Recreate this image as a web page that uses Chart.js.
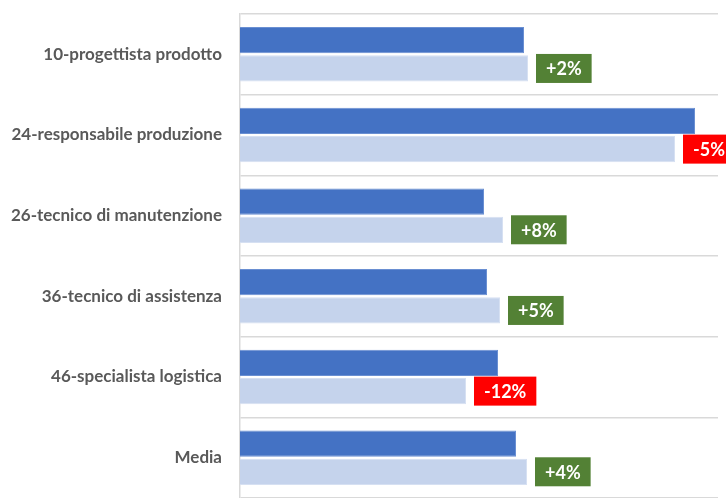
<!DOCTYPE html>
<html>
<head>
<meta charset="utf-8">
<script src="https://cdn.jsdelivr.net/npm/chart.js@4.4.0/dist/chart.umd.min.js"></script>
<style>
  html, body { margin: 0; padding: 0; background: #fff; }
  #wrap { width: 726px; height: 498px; }
</style>
</head>
<body>
<div id="wrap"><canvas id="chart"></canvas></div>
<script>
// Data
const categories = ['10-progettista prodotto', '24-responsabile produzione', '26-tecnico di manutenzione',
    '36-tecnico di assistenza', '46-specialista logistica', 'Media'];
const previousValues = [284, 455, 244, 247, 258, 276];
const currentValues = [288, 435, 263, 260, 226, 287];
const changeLabels = ['+2%', '-5%', '+8%', '+5%', '-12%', '+4%'];

// Draws the coloured change boxes to the right of the light bars
const changeBoxes = {
    id: 'changeBoxes',
    afterDatasetsDraw(chart) {
        const ctx = chart.ctx;
        const meta = chart.getDatasetMeta(1);
        ctx.save();
        ctx.font = 'bold 18px Lato';
        ctx.textBaseline = 'middle';
        ctx.textAlign = 'center';
        meta.data.forEach((bar, i) => {
            const text = changeLabels[i];
            const w = ctx.measureText(text).width + 20;
            const h = 29;
            const x = bar.x + 8;
            const y = bar.y - h / 2;
            ctx.fillStyle = text.startsWith('-') ? '#FF0000' : '#538135';
            ctx.fillRect(x, y, w, h);
            ctx.fillStyle = '#ffffff';
            ctx.fillText(text, x + w / 2, bar.y + 1);
        });
        ctx.restore();
    }
};

new Chart(document.getElementById('chart'), {
    type: 'bar',
    data: {
        labels: categories,
        datasets: [{
            data: previousValues,
            backgroundColor: '#4472C4',
            borderColor: '#6a8fd2',
            borderWidth: 1,
            categoryPercentage: 0.7,
            barPercentage: 0.93
        }, {
            data: currentValues,
            backgroundColor: '#C5D3EC',
            borderColor: '#d6e0f2',
            borderWidth: 1,
            categoryPercentage: 0.7,
            barPercentage: 0.93
        }]
    },
    options: {
        indexAxis: 'y',
        responsive: true,
        maintainAspectRatio: false,
        animation: false,
        layout: { padding: { top: 14, right: 8, bottom: 0, left: 0 } },
        plugins: {
            legend: { display: false },
            tooltip: { enabled: false }
        },
        scales: {
            x: {
                display: false,
                min: 0,
                max: 478
            },
            y: {
                afterFit: (scale) => {
                    scale.width = 240;
                    scale.paddingTop = 0;
                    scale.paddingBottom = 0;
                },
                grid: {
                    color: '#D9D9D9',
                    lineWidth: 1.5,
                    drawTicks: false
                },
                border: { color: '#D9D9D9', width: 1.5 },
                ticks: {
                    color: '#595959',
                    padding: 18,
                    font: { family: 'Lato', size: 17, weight: 'bold' }
                }
            }
        }
    },
    plugins: [changeBoxes]
});
</script>
</body>
</html>
